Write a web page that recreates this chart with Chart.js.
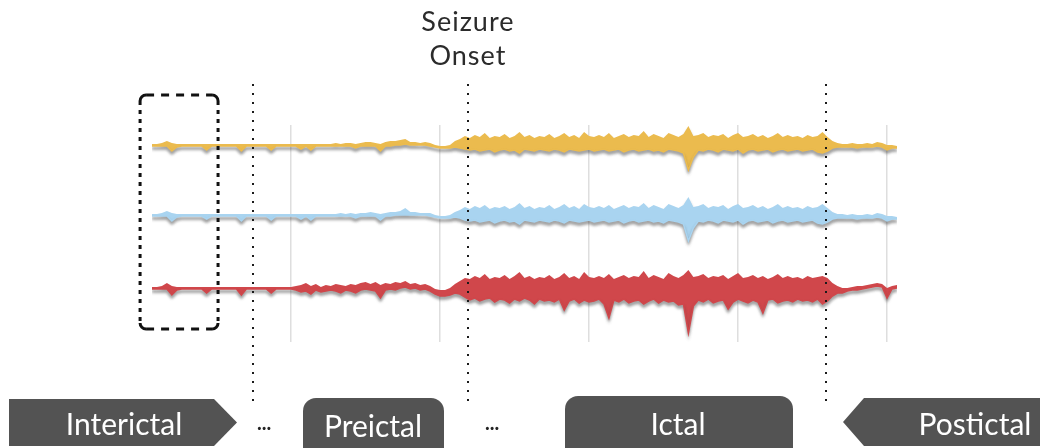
<!DOCTYPE html>
<html lang="en">

<head>
  <meta charset="UTF-8">
  <title>Seizure Phases</title>
  <script src="https://cdn.jsdelivr.net/npm/chart.js"></script>
  <style>
    body { margin: 0; background: #ffffff; }
    #wrap { width: 1040px; height: 448px; }
  </style>
</head>

<body>
  <div id="wrap">
    <canvas id="eegChart" width="1040" height="448"></canvas>
  </div>

  <script>
    // envelope of each channel (upper / lower edge), one value per sample
    const yellowHi = [
      1, 1, 2, 4, 2, 1, 1, 1, 1, 1,
      1, 1, 1, 1, 1, 1, 1, 1, 1, 1,
      1, 1, 1, 1, 1, 1, 1, 1, 1, 1,
      1, 1, 1, 1, 1, 1, 1, 2, 1, 2,
      2, 1, 2, 3, 3, 2, 1, 3, 4, 4,
      5, 6, 3, 3, 2, 3, 2, 0, -1, -1,
      0, 4, 6, 9, 7, 10, 8, 12, 7, 9,
      8, 11, 7, 9, 13, 8, 10, 7, 9, 8,
      11, 7, 9, 12, 8, 10, 7, 13, 9, 8,
      10, 8, 12, 7, 9, 11, 8, 10, 9, 14,
      8, 11, 9, 7, 12, 10, 8, 11, 19, 9,
      10, 12, 8, 10, 9, 11, 7, 10, 12, 8,
      9, 11, 8, 10, 7, 9, 12, 8, 10, 8,
      9, 7, 10, 8, 9, 13, 8, 4, 2, 1,
      1, 2, 1, 1, 2, 1, 3, 2, 0, 0, -1
    ];
    const yellowLo = [
      -1, -1, -1, -1, -6, -2, -1, -1, -1, -1,
      -1, -5, -1, -1, -1, -1, -1, -1, -6, -1,
      -1, -1, -1, -1, -5, -1, -1, -1, -1, -1,
      -4, -1, -5, -1, -1, -1, -1, -1, -1, -1,
      -1, -3, -1, -1, -1, -1, -6, -1, -1, 0,
      0, 1, 0, 0, 0, 0, -1, -2, -3, -3,
      -3, -2, -3, -4, -5, -4, -6, -5, -4, -7,
      -5, -4, -6, -5, -8, -4, -5, -6, -4, -5,
      -6, -4, -5, -7, -4, -5, -6, -5, -4, -6,
      -5, -4, -6, -5, -4, -7, -5, -4, -6, -5,
      -4, -6, -5, -7, -4, -5, -6, -8, -25, -12,
      -5, -6, -4, -5, -7, -4, -5, -6, -4, -8,
      -5, -4, -6, -5, -4, -7, -5, -4, -6, -5,
      -4, -6, -5, -4, -7, -8, -6, -3, -2, -2,
      -2, -2, -3, -2, -2, -2, -1, -2, -5, -3, -3
    ];
    const blueHi = [
      1, 1, 2, 4, 2, 1, 1, 1, 1, 1,
      1, 1, 1, 1, 1, 1, 1, 1, 1, 1,
      1, 1, 1, 1, 1, 1, 1, 1, 1, 1,
      1, 1, 1, 1, 1, 1, 1, 1, 2, 1,
      2, 1, 2, 2, 3, 2, 1, 2, 3, 3,
      4, 7, 3, 3, 2, 2, 2, 0, -1, -1,
      0, 3, 5, 8, 6, 9, 7, 10, 6, 8,
      7, 9, 6, 8, 12, 7, 9, 6, 8, 7,
      10, 6, 8, 11, 7, 9, 6, 11, 8, 7,
      9, 7, 10, 6, 8, 10, 7, 9, 8, 12,
      7, 10, 8, 6, 11, 9, 7, 10, 18, 8,
      9, 11, 7, 9, 8, 10, 6, 9, 11, 7,
      8, 10, 7, 9, 6, 8, 11, 7, 9, 7,
      8, 6, 9, 7, 8, 11, 7, 3, 1, 1,
      0, 1, 0, 0, 1, 0, 2, 1, -1, -1, -2
    ];
    const blueLo = [
      -1, -1, -1, -1, -6, -2, -1, -1, -1, -1,
      -1, -4, -1, -1, -1, -1, -1, -1, -6, -1,
      -1, -1, -1, -1, -5, -1, -1, -1, -1, -1,
      -4, -1, -5, -1, -1, -1, -1, -1, -1, -1,
      -1, -3, -1, -1, -1, -1, -5, -1, -1, 0,
      0, 0, 0, 0, 0, 0, -1, -2, -3, -3,
      -3, -2, -3, -5, -6, -5, -7, -6, -5, -8,
      -6, -5, -7, -6, -9, -5, -6, -7, -5, -6,
      -7, -5, -6, -8, -5, -6, -7, -6, -5, -7,
      -6, -5, -7, -6, -5, -8, -6, -5, -7, -6,
      -5, -7, -6, -8, -5, -6, -7, -9, -26, -13,
      -6, -7, -5, -6, -8, -5, -6, -7, -5, -9,
      -6, -5, -7, -6, -5, -8, -6, -5, -7, -6,
      -5, -7, -6, -5, -8, -9, -7, -4, -3, -3,
      -3, -3, -4, -3, -3, -3, -2, -3, -6, -4, -4
    ];
    const redHi = [
      1, 1, 2, 5, 2, 1, 1, 1, 1, 1,
      1, 1, 1, 1, 1, 1, 1, 1, 1, 1,
      1, 1, 1, 1, 1, 1, 1, 1, 1, 2,
      3, 5, 2, 4, 1, 3, 2, 4, 3, 2,
      4, 3, 5, 6, 4, 6, 3, 5, 4, 6,
      5, 7, 4, 5, 3, 4, 2, -1, -2, -2,
      0, 4, 7, 10, 9, 12, 10, 14, 9, 11,
      10, 13, 9, 12, 16, 10, 12, 9, 11, 10,
      13, 9, 11, 15, 10, 12, 9, 16, 11, 10,
      12, 10, 14, 9, 11, 13, 10, 12, 11, 17,
      10, 13, 11, 9, 15, 12, 10, 13, 18, 11,
      12, 14, 10, 12, 11, 13, 9, 12, 15, 10,
      11, 13, 10, 12, 9, 11, 14, 10, 12, 10,
      11, 9, 12, 10, 11, 12, 10, 5, 2, 0,
      0, 1, 2, 2, 3, 4, 5, 4, 0, 2, 3
    ];
    const redLo = [
      -1, -1, -1, -1, -7, -2, -1, -1, -1, -1,
      -1, -5, -1, -1, -1, -1, -1, -1, -7, -1,
      -1, -1, -1, -1, -5, -1, -1, -1, -1, -2,
      -4, -3, -6, -2, -4, -3, -2, -3, -5, -2,
      -3, -5, -2, -1, -2, -3, -10, -2, -1, -2,
      0, 1, -1, 0, -2, -1, -3, -6, -8, -8,
      -7, -5, -6, -9, -12, -10, -13, -11, -10, -14,
      -11, -12, -15, -11, -13, -10, -12, -16, -11, -13,
      -12, -14, -11, -22, -13, -11, -15, -12, -14, -13,
      -11, -16, -30, -12, -14, -11, -15, -13, -12, -16,
      -13, -11, -15, -12, -14, -13, -17, -16, -45, -18,
      -12, -14, -11, -15, -13, -12, -21, -14, -11, -13,
      -15, -12, -14, -25, -12, -11, -15, -13, -12, -14,
      -11, -13, -12, -14, -11, -16, -13, -8, -5, -5,
      -3, -2, -2, -1, 0, 1, 2, 1, -10, -1, 0
    ];

    // channel baseline offsets
    const channelOffsets = [0, -70, -143];
    const channelColors = ['#ebbb4e', '#a9d4f0', '#d0474b'];

    // sample positions of grid lines and events
    const gridSamples = [28, 58, 88, 118, 148];
    const eventSamples = [20.3, 63.6, 135.7];   // preictal start, seizure onset, seizure end
    const windowSamples = [-2.4, 13.3];          // highlighted interictal window

    const phaseLabels = ['Interictal', 'Preictal', 'Ictal', 'Postictal'];

    function toPoints(values, offset) {
      return values.map((v, i) => ({ x: i, y: v + offset }));
    }

    const envelopes = [[yellowHi, yellowLo], [blueHi, blueLo], [redHi, redLo]];
    const datasets = [];
    envelopes.forEach(([hi, lo], c) => {
      datasets.push({
        data: toPoints(hi, channelOffsets[c]),
        borderColor: 'rgba(0,0,0,0)',
        borderWidth: 1,
        fill: false
      });
      datasets.push({
        data: toPoints(lo, channelOffsets[c]),
        borderColor: channelColors[c],
        backgroundColor: channelColors[c],
        borderWidth: 1.5,
        fill: '-1'
      });
    });

    function roundBox(ctx, x0, y0, x1, y1, r) {
      ctx.beginPath();
      ctx.roundRect(x0, y0, x1 - x0, y1 - y0, r);
      ctx.fill();
    }

    const annotations = {
      id: 'annotations',
      beforeDatasetsDraw(chart) {
        const ctx = chart.ctx;
        ctx.save();
        ctx.shadowColor = 'rgba(60,60,60,0.45)';
        ctx.shadowBlur = 3;
        ctx.shadowOffsetY = 3;
      },
      afterDatasetsDraw(chart) {
        chart.ctx.restore();
      },
      afterDraw(chart) {
        const ctx = chart.ctx;
        const xs = chart.scales.x;
        const area = chart.chartArea;

        // dotted event lines
        ctx.save();
        ctx.strokeStyle = '#1a1a1a';
        ctx.lineWidth = 2;
        ctx.setLineDash([2, 7]);
        eventSamples.forEach(s => {
          const px = Math.round(xs.getPixelForValue(s));
          ctx.beginPath();
          ctx.moveTo(px, area.top - 41);
          ctx.lineTo(px, area.bottom + 60);
          ctx.stroke();
        });
        ctx.restore();

        // dashed window box
        const x0 = xs.getPixelForValue(windowSamples[0]);
        const x1 = xs.getPixelForValue(windowSamples[1]);
        const y0 = area.top - 30;
        const y1 = area.bottom - 13;
        const r = 6;
        ctx.save();
        ctx.strokeStyle = '#111';
        ctx.lineWidth = 3;
        ctx.setLineDash([8, 7]);
        ctx.beginPath();
        ctx.moveTo(x0 + r, y0); ctx.lineTo(x1 - r, y0);
        ctx.moveTo(x0 + r, y1); ctx.lineTo(x1 - r, y1);
        ctx.stroke();
        ctx.setLineDash([4, 5]);
        ctx.beginPath();
        ctx.moveTo(x0, y0 + r); ctx.lineTo(x0, y1 - r);
        ctx.moveTo(x1, y0 + r); ctx.lineTo(x1, y1 - r);
        ctx.stroke();
        ctx.setLineDash([]);
        ctx.beginPath(); ctx.arc(x0 + r, y0 + r, r, Math.PI, 1.5 * Math.PI); ctx.stroke();
        ctx.beginPath(); ctx.arc(x1 - r, y0 + r, r, 1.5 * Math.PI, 2 * Math.PI); ctx.stroke();
        ctx.beginPath(); ctx.arc(x0 + r, y1 - r, r, 0.5 * Math.PI, Math.PI); ctx.stroke();
        ctx.beginPath(); ctx.arc(x1 - r, y1 - r, r, 0, 0.5 * Math.PI); ctx.stroke();
        ctx.restore();

        // seizure onset title
        const onsetX = xs.getPixelForValue(eventSamples[1]);
        ctx.save();
        ctx.fillStyle = '#2b2b2b';
        ctx.font = '27px Lato';
        ctx.letterSpacing = '1px';
        ctx.textAlign = 'center';
        ctx.textBaseline = 'alphabetic';
        ctx.fillText('Seizure', onsetX, 31);
        ctx.fillText('Onset', onsetX, 65);
        ctx.restore();

        // phase labels along the bottom
        ctx.save();
        ctx.fillStyle = '#535353';
        ctx.beginPath();
        ctx.moveTo(9, 399); ctx.lineTo(214, 399); ctx.lineTo(237, 422.5);
        ctx.lineTo(214, 446); ctx.lineTo(9, 446); ctx.closePath();
        ctx.fill();
        roundBox(ctx, 303, 398, 444, 462, 13);
        roundBox(ctx, 565, 396, 793, 462, 13);
        ctx.beginPath();
        ctx.moveTo(843, 422); ctx.lineTo(864, 398); ctx.lineTo(1040, 398);
        ctx.lineTo(1040, 446); ctx.lineTo(864, 446); ctx.closePath();
        ctx.fill();

        ctx.fillStyle = '#ffffff';
        ctx.font = '30px Lato';
        ctx.textAlign = 'center';
        ctx.fillText(phaseLabels[0], 124, 435);
        ctx.fillText(phaseLabels[1], 373, 437);
        ctx.fillText(phaseLabels[2], 678, 435);
        ctx.fillText(phaseLabels[3], 975, 435);

        ctx.fillStyle = '#222';
        ctx.font = 'bold 20px Lato';
        ctx.fillText('...', 264, 430);
        ctx.fillText('...', 492, 430);
        ctx.restore();
      }
    };

    const ctx = document.getElementById('eegChart').getContext('2d');
    const eegChart = new Chart(ctx, {
      type: 'line',
      data: { datasets: datasets },
      options: {
        responsive: false,
        animation: false,
        events: [],
        layout: { padding: { left: 152, right: 143, top: 125, bottom: 106 } },
        elements: {
          point: { radius: 0 },
          line: { tension: 0 }
        },
        plugins: {
          legend: { display: false },
          tooltip: { enabled: false }
        },
        scales: {
          x: {
            type: 'linear',
            min: 0,
            max: 150,
            afterBuildTicks: scale => {
              scale.ticks = gridSamples.map(v => ({ value: v }));
            },
            ticks: { display: false },
            border: { display: false },
            grid: { color: '#dedede', lineWidth: 1.5, drawTicks: false }
          },
          y: {
            display: false,
            min: -197,
            max: 20
          }
        }
      },
      plugins: [annotations]
    });
  </script>
</body>

</html>
